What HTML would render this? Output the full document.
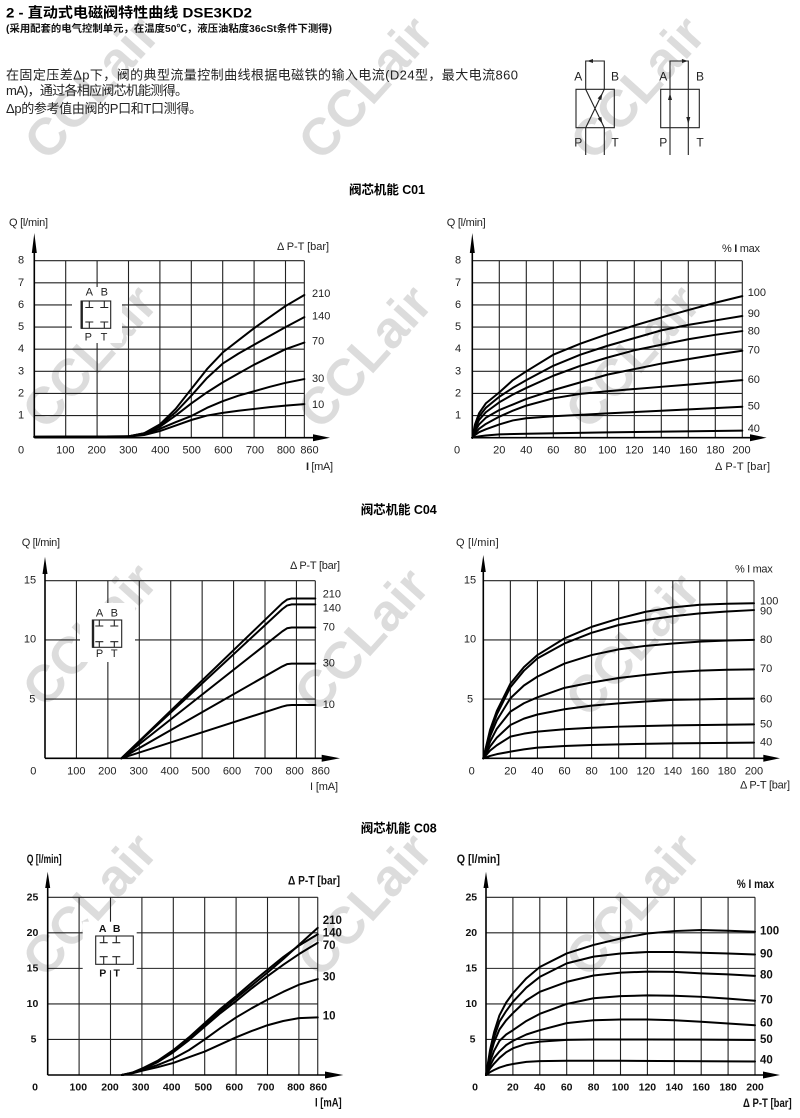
<!DOCTYPE html>
<html><head><meta charset="utf-8">
<style>
html,body{margin:0;padding:0;background:#fff;width:800px;height:1118px;overflow:hidden}
svg{display:block;overflow:hidden}
.g{stroke:#222;stroke-width:1.1;fill:none}
.c{stroke:#000;stroke-width:2;fill:none;stroke-linejoin:round;stroke-linecap:round}
.ax{stroke:#000;stroke-width:1.6;fill:none}
.t{font-size:11px;fill:#222;text-anchor:middle;dominant-baseline:central}
.tb{font-size:10.5px;font-weight:bold;fill:#111;text-anchor:middle;dominant-baseline:central}
.l{font-size:11px;fill:#222;dominant-baseline:central}
.lb{font-size:11.5px;font-weight:bold;fill:#111;dominant-baseline:central}
.sym{stroke:#222;stroke-width:1.1;fill:none}
</style></head>
<body>
<svg width="800" height="1118" viewBox="0 0 800 1118" xmlns="http://www.w3.org/2000/svg" font-family="'Liberation Sans','Noto Sans CJK SC',sans-serif">

<!-- watermarks -->
<g font-size="52" font-weight="bold" fill="#dcdcdc" text-anchor="middle" dominant-baseline="central">
<text transform="translate(92 88) rotate(-48)">CCLair</text>
<text transform="translate(366 88) rotate(-48)">CCLair</text>
<text transform="translate(638 88) rotate(-48)">CCLair</text>
<text transform="translate(90 357) rotate(-48)">CCLair</text>
<text transform="translate(365 357) rotate(-48)">CCLair</text>
<text transform="translate(633 357) rotate(-48)">CCLair</text>
<text transform="translate(90 635) rotate(-48)">CCLair</text>
<text transform="translate(362 640) rotate(-48)">CCLair</text>
<text transform="translate(633 645) rotate(-48)">CCLair</text>
<text transform="translate(90 905) rotate(-48)">CCLair</text>
<text transform="translate(365 905) rotate(-48)">CCLair</text>
<text transform="translate(633 905) rotate(-48)">CCLair</text>
</g>

<!-- header -->
<text x="6" y="12.7" dominant-baseline="central" font-size="14" font-weight="bold" fill="#000" textLength="246" lengthAdjust="spacingAndGlyphs">2 - 直动式电磁阀特性曲线 DSE3KD2</text>
<text x="6" y="29.3" dominant-baseline="central" font-size="10" font-weight="bold" fill="#111" textLength="326" lengthAdjust="spacingAndGlyphs">(采用配套的电气控制单元，在温度50℃，液压油粘度36cSt条件下测得)</text>
<text x="6" y="75" dominant-baseline="central" font-size="13" fill="#222" textLength="512">在固定压差Δp下，阀的典型流量控制曲线根据电磁铁的输入电流(D24型，最大电流860</text>
<text x="6" y="90.7" dominant-baseline="central" font-size="13" fill="#222" textLength="182">mA)，通过各相应阀芯机能测得。</text>
<text x="6" y="108.3" dominant-baseline="central" font-size="13" fill="#222" textLength="196">Δp的参考值由阀的P口和T口测得。</text>

<!-- valve symbol 1 -->
<rect class="sym" x="576" y="89.3" width="38.3" height="38.4"/>
<path class="sym" d="M585.7 89.3V61H604.3V89.3M585.7 127.7V155M604.3 127.7V155M585.7 127.7L604.3 89.3M585.7 89.3L604.3 127.7"/>
<polygon points="587,61 593,59 593,63" fill="#222"/>
<polygon points="602.5,93 601.25,100.17 597.65,98.43" fill="#222"/>
<polygon points="602.5,124 601.25,116.83 597.65,118.57" fill="#222"/>
<g font-size="12" fill="#222" text-anchor="middle" dominant-baseline="central">
<text x="578.3" y="76.7">A</text><text x="615" y="76.7">B</text>
<text x="578.3" y="142.7">P</text><text x="615" y="142.7">T</text>
</g>
<!-- valve symbol 2 -->
<rect class="sym" x="660.7" y="89.3" width="38.6" height="38.4"/>
<path class="sym" d="M670 155V61H688.3V155"/>
<polygon points="688,61 682,59 682,63" fill="#222"/>
<polygon points="670,93 668,100 672,100" fill="#222"/>
<polygon points="688.3,124 686.3,117 690.3,117" fill="#222"/>
<g font-size="12" fill="#222" text-anchor="middle" dominant-baseline="central">
<text x="663.3" y="76.7">A</text><text x="700" y="76.7">B</text>
<text x="663.3" y="142.7">P</text><text x="700" y="142.7">T</text>
</g>

<!-- section titles -->
<text x="349" y="190" dominant-baseline="central" font-size="12.5" font-weight="bold" fill="#000" textLength="76">阀芯机能 C01</text>
<text x="360.7" y="510" dominant-baseline="central" font-size="12.5" font-weight="bold" fill="#000" textLength="76">阀芯机能 C04</text>
<text x="360.7" y="828.3" dominant-baseline="central" font-size="12.5" font-weight="bold" fill="#000" textLength="76">阀芯机能 C08</text>

<!-- ================= C01 LEFT ================= -->
<g transform="translate(34.3 437.7) scale(0.314 -22.125)">
<path class="g" vector-effect="non-scaling-stroke" d="M100 0V8M200 0V8M300 0V8M400 0V8M500 0V8M600 0V8M700 0V8M800 0V8M860 0V8M0 1H860M0 2H860M0 3H860M0 4H860M0 5H860M0 6H860M0 7H860M0 8H860"/>
</g>
<rect x="72" y="287" width="50" height="56" fill="#fff"/>
<g transform="translate(34.3 437.7) scale(0.314 -22.125)">
<polyline class="c" vector-effect="non-scaling-stroke" points="0,0.04 250,0.04 300,0.06 350,0.2 400,0.6 450,1.3 500,2.2 550,3.1 600,3.85 650,4.4 700,4.95 750,5.45 800,5.95 860,6.45"/>
<polyline class="c" vector-effect="non-scaling-stroke" points="0,0.04 300,0.06 350,0.2 400,0.55 450,1.15 500,1.9 550,2.7 600,3.35 650,3.8 700,4.2 750,4.6 800,5.0 860,5.45"/>
<polyline class="c" vector-effect="non-scaling-stroke" points="0,0.04 300,0.06 350,0.18 400,0.5 450,1.0 500,1.55 550,2.05 600,2.5 650,2.9 700,3.3 750,3.65 800,4.0 860,4.3"/>
<polyline class="c" vector-effect="non-scaling-stroke" points="0,0.04 300,0.06 350,0.15 400,0.4 450,0.7 500,0.98 550,1.35 600,1.65 650,1.9 700,2.1 750,2.3 800,2.48 860,2.65"/>
<polyline class="c" vector-effect="non-scaling-stroke" points="0,0.04 300,0.05 350,0.12 400,0.3 450,0.55 500,0.8 550,1.0 600,1.12 650,1.22 700,1.3 750,1.38 800,1.45 860,1.52"/>
</g>
<path class="ax" d="M34.3 437.7V250M34.3 437.7H315"/>
<polygon points="34.3,233 31.8,253 36.8,253" fill="#000"/>
<polygon points="330,437.7 313,434.2 313,441.2" fill="#000"/>
<rect class="sym" x="81.7" y="301" width="29" height="27.3"/>
<line x1="81.7" y1="300.5" x2="81.7" y2="328.8" stroke="#222" stroke-width="2.4"/>
<path class="sym" d="M89.3 301V307.5M85.3 307.5H93.3M104.3 301V307.5M100.3 307.5H108.3M89.3 328.3V322M85.3 322H93.3M104.3 328.3V322M100.3 322H108.3"/>
<text class="t" x="89.3" y="292.7">A</text><text class="t" x="104.3" y="292.7">B</text>
<text class="t" x="88.3" y="337.7">P</text><text class="t" x="104" y="337.7">T</text>
<text class="t" x="21" y="415.6">1</text><text class="t" x="21" y="393.5">2</text><text class="t" x="21" y="371.3">3</text><text class="t" x="21" y="349.2">4</text><text class="t" x="21" y="327.1">5</text><text class="t" x="21" y="305">6</text><text class="t" x="21" y="282.8">7</text><text class="t" x="21" y="260.7">8</text>
<text class="t" x="21" y="450.7">0</text>
<text class="t" x="65.3" y="450.7">100</text><text class="t" x="96.7" y="450.7">200</text><text class="t" x="128.3" y="450.7">300</text><text class="t" x="160.3" y="450.7">400</text><text class="t" x="191.7" y="450.7">500</text><text class="t" x="223.3" y="450.7">600</text><text class="t" x="255" y="450.7">700</text><text class="t" x="286" y="450.7">800</text><text class="t" x="309.5" y="450.7">860</text>
<text class="l" x="306" y="467" textLength="27"><tspan font-weight="bold">I</tspan> [mA]</text>
<text class="l" x="9" y="223" textLength="39">Q [l/min]</text>
<text class="l" x="277" y="247" textLength="52">Δ P-T [bar]</text>
<text class="l" x="312" y="294">210</text><text class="l" x="312" y="316.7">140</text><text class="l" x="312" y="341.7">70</text><text class="l" x="312" y="379">30</text><text class="l" x="312" y="405">10</text>

<!-- ================= C01 RIGHT ================= -->
<g transform="translate(472.3 437.7) scale(1.35 -22.125)">
<path class="g" vector-effect="non-scaling-stroke" d="M20 0V8M40 0V8M60 0V8M80 0V8M100 0V8M120 0V8M140 0V8M160 0V8M180 0V8M200 0V8M0 1H200M0 2H200M0 3H200M0 4H200M0 5H200M0 6H200M0 7H200M0 8H200"/>
<polyline class="c" vector-effect="non-scaling-stroke" points="0,0 2,0.6 5,1.1 10,1.55 20,2.05 30,2.6 40,3.0 60,3.75 80,4.25 100,4.68 120,5.07 140,5.43 160,5.77 180,6.1 200,6.4"/>
<polyline class="c" vector-effect="non-scaling-stroke" points="0,0 2,0.5 5,0.95 10,1.35 20,1.85 30,2.25 40,2.6 60,3.25 80,3.75 100,4.15 120,4.5 140,4.85 160,5.1 180,5.3 200,5.5"/>
<polyline class="c" vector-effect="non-scaling-stroke" points="0,0 2,0.4 5,0.8 10,1.15 20,1.6 30,1.95 40,2.25 60,2.8 80,3.25 100,3.62 120,3.95 140,4.2 160,4.45 180,4.65 200,4.82"/>
<polyline class="c" vector-effect="non-scaling-stroke" points="0,0 2,0.3 5,0.6 10,0.9 20,1.25 30,1.5 40,1.75 60,2.15 80,2.5 100,2.85 120,3.1 140,3.35 160,3.55 180,3.75 200,3.93"/>
<polyline class="c" vector-effect="non-scaling-stroke" points="0,0 2,0.2 5,0.4 10,0.62 20,0.95 30,1.22 40,1.45 60,1.78 80,1.98 100,2.1 120,2.2 140,2.3 160,2.4 180,2.5 200,2.6"/>
<polyline class="c" vector-effect="non-scaling-stroke" points="0,0 2,0.12 5,0.25 10,0.38 20,0.6 30,0.78 40,0.88 60,0.97 80,1.03 100,1.1 140,1.22 200,1.4"/>
<polyline class="c" vector-effect="non-scaling-stroke" points="0,0 5,0.06 10,0.1 20,0.15 40,0.18 100,0.24 200,0.32"/>
</g>
<path class="ax" d="M472.3 437.7V250M472.3 437.7H752"/>
<polygon points="472.3,233 469.8,253 474.8,253" fill="#000"/>
<polygon points="766.7,437.7 750,434.2 750,441.2" fill="#000"/>
<text class="t" x="458" y="415.6">1</text><text class="t" x="458" y="393.5">2</text><text class="t" x="458" y="371.3">3</text><text class="t" x="458" y="349.2">4</text><text class="t" x="458" y="327.1">5</text><text class="t" x="458" y="305">6</text><text class="t" x="458" y="282.8">7</text><text class="t" x="458" y="260.7">8</text>
<text class="t" x="457" y="450.7">0</text>
<text class="t" x="499.3" y="450.7">20</text><text class="t" x="526.3" y="450.7">40</text><text class="t" x="553.3" y="450.7">60</text><text class="t" x="580.3" y="450.7">80</text><text class="t" x="607.3" y="450.7">100</text><text class="t" x="634.3" y="450.7">120</text><text class="t" x="661.3" y="450.7">140</text><text class="t" x="688.3" y="450.7">160</text><text class="t" x="715.3" y="450.7">180</text><text class="t" x="741.5" y="450.7">200</text>
<text class="l" x="446.7" y="223" textLength="39">Q [l/min]</text>
<text class="l" x="722" y="249" textLength="38">% <tspan font-weight="bold">I</tspan> max</text>
<text class="l" x="715" y="467" textLength="55">Δ P-T  [bar]</text>
<text class="l" x="747.7" y="293">100</text><text class="l" x="747.7" y="314">90</text><text class="l" x="747.7" y="331.7">80</text><text class="l" x="747.7" y="350.7">70</text><text class="l" x="747.7" y="380">60</text><text class="l" x="747.7" y="406.7">50</text><text class="l" x="747.7" y="429">40</text>

<!-- ================= C04 LEFT ================= -->
<g transform="translate(45 758.3) scale(0.3143 -11.84)">
<path class="g" vector-effect="non-scaling-stroke" d="M100 0V15M200 0V15M300 0V15M400 0V15M500 0V15M600 0V15M700 0V15M800 0V15M860 0V15M0 5H860M0 10H860M0 15H860"/>
</g>
<rect x="80" y="603" width="55" height="59" fill="#fff"/>
<g transform="translate(45 758.3) scale(0.3143 -11.84)">
<polyline class="c" vector-effect="non-scaling-stroke" points="243,0 755,13.1 770,13.4 785,13.5 860,13.5"/>
<polyline class="c" vector-effect="non-scaling-stroke" points="243,0 755,12.6 770,12.9 785,13.0 860,13.0"/>
<polyline class="c" vector-effect="non-scaling-stroke" points="243,0 755,10.72 770,10.98 785,11.05 860,11.05"/>
<polyline class="c" vector-effect="non-scaling-stroke" points="243,0 755,7.76 770,7.95 785,8.0 860,8.0"/>
<polyline class="c" vector-effect="non-scaling-stroke" points="243,0 755,4.37 770,4.47 785,4.5 860,4.5"/>
</g>
<path class="ax" d="M45 758.3V572M45 758.3H324"/>
<polygon points="45,556.7 42.5,574 47.5,574" fill="#000"/>
<polygon points="340,758.3 321.7,754.8 321.7,761.8" fill="#000"/>
<rect class="sym" x="93" y="620" width="28.7" height="27.3"/>
<line x1="93" y1="619.5" x2="93" y2="647.8" stroke="#222" stroke-width="2.4"/>
<path class="sym" d="M99.3 620V626M95.3 626H103.3M114.3 620V626M110.3 626H118.3M99.3 647.3V641.7M95.3 641.7H103.3M114.3 647.3V641.7M110.3 641.7H118.3"/>
<text class="t" x="99.5" y="613.3">A</text><text class="t" x="114.3" y="613.3">B</text>
<text class="t" x="99.5" y="654">P</text><text class="t" x="114.3" y="654">T</text>
<text class="t" x="30" y="580.7">15</text><text class="t" x="30" y="639.3">10</text><text class="t" x="32.3" y="699.3">5</text>
<text class="t" x="33.3" y="771.7">0</text>
<text class="t" x="76.3" y="771.7">100</text><text class="t" x="107.3" y="771.7">200</text><text class="t" x="138.7" y="771.7">300</text><text class="t" x="169.7" y="771.7">400</text><text class="t" x="200.7" y="771.7">500</text><text class="t" x="232" y="771.7">600</text><text class="t" x="263.3" y="771.7">700</text><text class="t" x="294.7" y="771.7">800</text><text class="t" x="320.7" y="771.7">860</text>
<text class="l" x="310" y="787" textLength="28">I [mA]</text>
<text class="l" x="21.7" y="543" textLength="38.3">Q [l/min]</text>
<text class="l" x="290" y="566" textLength="50">Δ P-T [bar]</text>
<text class="l" x="322.7" y="594.3">210</text><text class="l" x="322.7" y="608.3">140</text><text class="l" x="322.7" y="627.7">70</text><text class="l" x="322.7" y="663.3">30</text><text class="l" x="322.7" y="705">10</text>

<!-- ================= C04 RIGHT ================= -->
<g transform="translate(483.3 758.3) scale(1.3535 -11.84)">
<path class="g" vector-effect="non-scaling-stroke" d="M20 0V15M40 0V15M60 0V15M80 0V15M100 0V15M120 0V15M140 0V15M160 0V15M180 0V15M200 0V15M0 5H200M0 10H200M0 15H200"/>
<polyline class="c" vector-effect="non-scaling-stroke" points="0,0 5,2.4 10,4.0 20,6.3 30,7.7 40,8.72 60,10.13 80,11.1 100,11.8 120,12.38 140,12.75 160,12.97 180,13.05 200,13.1"/>
<polyline class="c" vector-effect="non-scaling-stroke" points="0,0 5,2.2 10,3.7 20,6.0 30,7.4 40,8.44 60,9.7 80,10.6 100,11.26 120,11.68 140,12.0 160,12.24 180,12.4 200,12.52"/>
<polyline class="c" vector-effect="non-scaling-stroke" points="0,0 5,1.85 10,3.2 20,5.07 30,6.15 40,6.9 60,8.0 80,8.72 100,9.2 120,9.5 140,9.7 160,9.85 180,9.95 200,10.0"/>
<polyline class="c" vector-effect="non-scaling-stroke" points="0,0 5,1.4 10,2.5 20,3.94 30,4.65 40,5.15 60,5.95 80,6.4 100,6.78 120,7.05 140,7.28 160,7.4 180,7.48 200,7.51"/>
<polyline class="c" vector-effect="non-scaling-stroke" points="0,0 5,1.0 10,1.75 20,2.81 30,3.35 40,3.7 60,4.14 80,4.45 100,4.64 120,4.8 140,4.93 160,4.98 180,5.02 200,5.04"/>
<polyline class="c" vector-effect="non-scaling-stroke" points="0,0 5,0.65 10,1.1 20,1.83 30,2.08 40,2.25 60,2.45 80,2.58 100,2.67 140,2.78 200,2.87"/>
<polyline class="c" vector-effect="non-scaling-stroke" points="0,0 5,0.2 10,0.35 20,0.56 30,0.75 40,0.9 60,1.04 80,1.12 100,1.18 140,1.26 200,1.32"/>
</g>
<path class="ax" d="M483.3 758.3V570M483.3 758.3H766"/>
<polygon points="483.3,555 480.8,572 485.8,572" fill="#000"/>
<polygon points="780,758.3 763.3,754.8 763.3,761.8" fill="#000"/>
<text class="t" x="470" y="580.7">15</text><text class="t" x="470" y="639.3">10</text><text class="t" x="470" y="699.3">5</text>
<text class="t" x="471.7" y="771.7">0</text>
<text class="t" x="510.4" y="771.7">20</text><text class="t" x="537.4" y="771.7">40</text><text class="t" x="564.5" y="771.7">60</text><text class="t" x="591.6" y="771.7">80</text><text class="t" x="618.7" y="771.7">100</text><text class="t" x="645.7" y="771.7">120</text><text class="t" x="672.8" y="771.7">140</text><text class="t" x="699.9" y="771.7">160</text><text class="t" x="726.9" y="771.7">180</text><text class="t" x="754" y="771.7">200</text>
<text class="l" x="456" y="543" textLength="42.7">Q [l/min]</text>
<text class="l" x="735" y="569.3" textLength="37.7">% I max</text>
<text class="l" x="740" y="785.7" textLength="50">Δ P-T [bar]</text>
<text class="l" x="760" y="601.7">100</text><text class="l" x="760" y="611.7">90</text><text class="l" x="760" y="640">80</text><text class="l" x="760" y="669">70</text><text class="l" x="760" y="699.3">60</text><text class="l" x="760" y="724.3">50</text><text class="l" x="760" y="742.3">40</text>

<!-- ================= C08 LEFT ================= -->
<g transform="translate(47.7 1075) scale(0.314 -7.108)">
<path class="g" vector-effect="non-scaling-stroke" d="M100 0V25M200 0V25M300 0V25M400 0V25M500 0V25M600 0V25M700 0V25M800 0V25M860 0V25M0 5H860M0 10H860M0 15H860M0 20H860M0 25H860"/>
</g>
<rect x="82.7" y="921.7" width="54" height="48.5" fill="#fff"/>
<g transform="translate(47.7 1075) scale(0.314 -7.108)">
<polyline class="c" vector-effect="non-scaling-stroke" points="236,0 270,0.3 300,0.8 350,1.9 400,3.4 450,5.2 500,7.1 550,9.0 600,10.8 650,12.6 700,14.4 750,16.3 800,18.3 860,20.7"/>
<polyline class="c" vector-effect="non-scaling-stroke" points="236,0 270,0.35 300,0.9 350,2.0 400,3.5 450,5.3 500,7.3 550,9.3 600,11.1 650,13.0 700,14.8 750,16.6 800,18.2 860,19.8"/>
<polyline class="c" vector-effect="non-scaling-stroke" points="236,0 270,0.3 300,0.8 350,1.8 400,3.2 450,4.9 500,6.8 550,8.7 600,10.4 650,12.2 700,13.9 750,15.5 800,17.0 860,18.6"/>
<polyline class="c" vector-effect="non-scaling-stroke" points="236,0 270,0.3 300,0.7 350,1.4 400,2.3 450,3.5 500,5.0 550,6.6 600,8.1 650,9.4 700,10.6 750,11.7 800,12.7 860,13.5"/>
<polyline class="c" vector-effect="non-scaling-stroke" points="236,0 270,0.25 300,0.6 350,1.1 400,1.7 450,2.5 500,3.3 550,4.3 600,5.3 650,6.2 700,7.0 750,7.6 800,8.0 860,8.1"/>
</g>
<path class="ax" d="M47.7 1075V886M47.7 1075H327"/>
<polygon points="47.7,871.7 45.2,888 50.2,888" fill="#000"/>
<polygon points="343.3,1075 325,1071.5 325,1078.5" fill="#000"/>
<rect class="sym" x="95.7" y="936" width="37.6" height="28.3"/>
<path class="sym" d="M103.7 936V942.7M99.7 942.7H107.7M116.3 936V942.7M112.3 942.7H120.3M103.7 964.3V956.7M99.7 956.7H107.7M116.3 964.3V956.7M112.3 956.7H120.3"/>
<text class="tb" x="102.7" y="929" font-size="11.5">A</text><text class="tb" x="116.7" y="929" font-size="11.5">B</text>
<text class="tb" x="102.7" y="973.3" font-size="11.5">P</text><text class="tb" x="116.7" y="973.3" font-size="11.5">T</text>
<text class="tb" x="32.5" y="897.3">25</text><text class="tb" x="32.5" y="932.8">20</text><text class="tb" x="32.5" y="968.4">15</text><text class="tb" x="32.5" y="1003.9">10</text><text class="tb" x="33.5" y="1039.5">5</text>
<text class="tb" x="35" y="1087.7">0</text>
<text class="tb" x="78.3" y="1087.7">100</text><text class="tb" x="110" y="1087.7">200</text><text class="tb" x="140.7" y="1087.7">300</text><text class="tb" x="171.7" y="1087.7">400</text><text class="tb" x="203.3" y="1087.7">500</text><text class="tb" x="234.3" y="1087.7">600</text><text class="tb" x="265.7" y="1087.7">700</text><text class="tb" x="296" y="1087.7">800</text><text class="tb" x="318.3" y="1087.7">860</text>
<text class="lb" x="315" y="1103.3" textLength="26.7" lengthAdjust="spacingAndGlyphs" font-size="11">I [mA]</text>
<text class="lb" x="26.7" y="860" textLength="35" lengthAdjust="spacingAndGlyphs" font-size="11">Q [l/min]</text>
<text class="lb" x="288" y="881.7" textLength="52" lengthAdjust="spacingAndGlyphs" font-size="11">Δ P-T [bar]</text>
<text class="lb" x="322.7" y="921">210</text><text class="lb" x="322.7" y="933.3">140</text><text class="lb" x="322.7" y="946">70</text><text class="lb" x="322.7" y="977.7">30</text><text class="lb" x="322.7" y="1016.7">10</text>

<!-- ================= C08 RIGHT ================= -->
<g transform="translate(486 1075) scale(1.345 -7.108)">
<path class="g" vector-effect="non-scaling-stroke" d="M20 0V25M40 0V25M60 0V25M80 0V25M100 0V25M120 0V25M140 0V25M160 0V25M180 0V25M200 0V25M0 5H200M0 10H200M0 15H200M0 20H200M0 25H200"/>
<polyline class="c" vector-effect="non-scaling-stroke" points="0,0 3,3.5 6,6 10,8.4 15,10.2 20,11.5 30,13.6 40,15.2 60,17.1 80,18.3 100,19.2 120,19.9 140,20.25 160,20.4 180,20.3 200,20.15"/>
<polyline class="c" vector-effect="non-scaling-stroke" points="0,0 3,3.0 6,5.3 10,7.5 15,9.0 20,10.3 30,12.3 40,13.8 60,15.7 80,16.65 100,17.1 120,17.3 140,17.3 160,17.2 180,17.1 200,16.95"/>
<polyline class="c" vector-effect="non-scaling-stroke" points="0,0 3,2.6 6,4.6 10,6.4 15,7.7 20,8.7 30,10.5 40,11.7 60,13.1 80,14.0 100,14.4 120,14.55 140,14.5 160,14.3 180,14.15 200,13.95"/>
<polyline class="c" vector-effect="non-scaling-stroke" points="0,0 3,1.9 6,3.4 10,4.8 15,5.7 20,6.3 30,7.6 40,8.6 60,10.0 80,10.8 100,11.1 120,11.2 140,11.15 160,11.0 180,10.75 200,10.45"/>
<polyline class="c" vector-effect="non-scaling-stroke" points="0,0 3,1.3 6,2.4 10,3.3 15,4.2 20,4.8 30,5.7 40,6.3 60,7.3 80,7.7 100,7.8 120,7.8 140,7.7 160,7.5 180,7.25 200,7.0"/>
<polyline class="c" vector-effect="non-scaling-stroke" points="0,0 3,0.9 6,1.6 10,2.4 15,3.2 20,3.75 30,4.4 40,4.7 60,4.95 80,5.0 120,5.0 160,4.98 200,4.92"/>
<polyline class="c" vector-effect="non-scaling-stroke" points="0,0 3,0.4 6,0.7 10,1.05 15,1.35 20,1.55 30,1.85 40,1.95 60,2.0 100,2.0 200,1.9"/>
</g>
<path class="ax" d="M486 1075V886M486 1075H766"/>
<polygon points="486,871.7 483.5,888 488.5,888" fill="#000"/>
<polygon points="780,1075 763,1071.5 763,1078.5" fill="#000"/>
<text class="tb" x="471.3" y="897.3">25</text><text class="tb" x="471.3" y="932.8">20</text><text class="tb" x="471.3" y="968.4">15</text><text class="tb" x="471.3" y="1003.9">10</text><text class="tb" x="472.5" y="1039.5">5</text>
<text class="tb" x="475" y="1087.7">0</text>
<text class="tb" x="512.9" y="1087.7">20</text><text class="tb" x="539.8" y="1087.7">40</text><text class="tb" x="566.7" y="1087.7">60</text><text class="tb" x="593.6" y="1087.7">80</text><text class="tb" x="620.5" y="1087.7">100</text><text class="tb" x="647.4" y="1087.7">120</text><text class="tb" x="674.3" y="1087.7">140</text><text class="tb" x="701.2" y="1087.7">160</text><text class="tb" x="728.1" y="1087.7">180</text><text class="tb" x="755" y="1087.7">200</text>
<text class="lb" x="456.7" y="860" textLength="43.3" lengthAdjust="spacingAndGlyphs" font-size="11">Q [l/min]</text>
<text class="lb" x="736.7" y="885" textLength="37.6" lengthAdjust="spacingAndGlyphs" font-size="11">% I max</text>
<text class="lb" x="743" y="1104" textLength="48.7" lengthAdjust="spacingAndGlyphs" font-size="11">Δ P-T [bar]</text>
<text class="lb" x="760" y="931.7">100</text><text class="lb" x="760" y="954.3">90</text><text class="lb" x="760" y="975.7">80</text><text class="lb" x="760" y="1000.7">70</text><text class="lb" x="760" y="1023.3">60</text><text class="lb" x="760" y="1040">50</text><text class="lb" x="760" y="1060.7">40</text>

</svg>
</body></html>
